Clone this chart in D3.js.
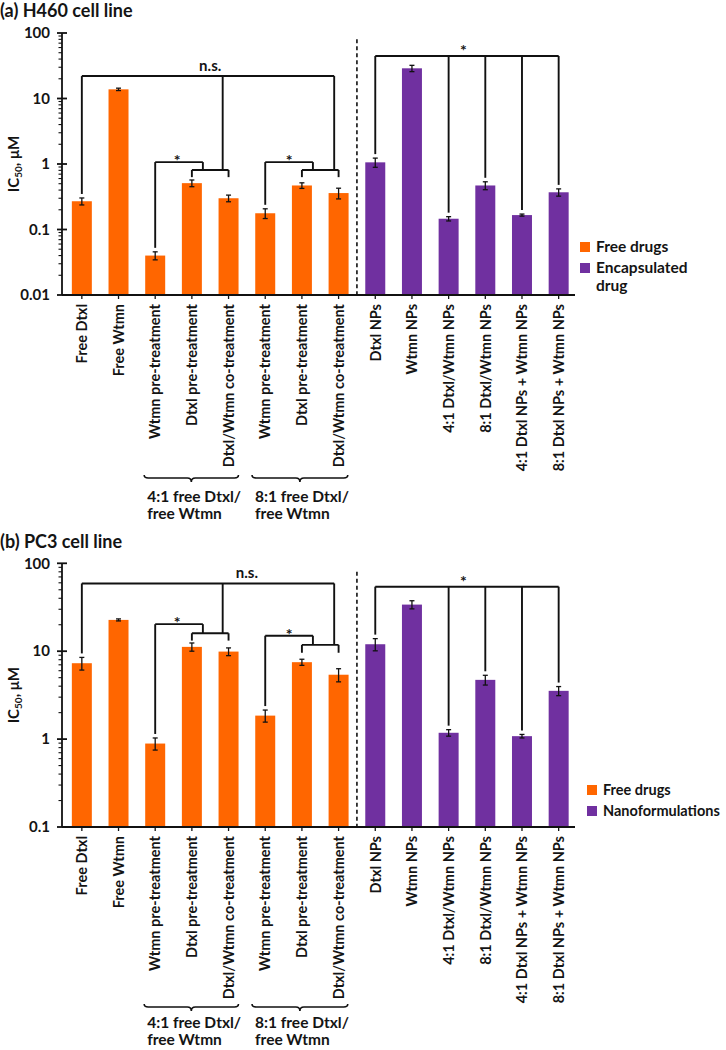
<!DOCTYPE html>
<html><head><meta charset="utf-8">
<script src="https://cdn.jsdelivr.net/npm/d3@7"></script>
<style>
body{margin:0;background:#fff}
svg{display:block}
text{font-family:Lato,'Open Sans',sans-serif;font-weight:700;fill:#141414}
</style>
</head><body><svg id="c" width="726" height="1050"></svg>
<script>
// ---------- DATA ----------
const categories = ["Free Dtxl","Free Wtmn","Wtmn pre-treatment","Dtxl pre-treatment","Dtxl/Wtmn co-treatment",
  "Wtmn pre-treatment","Dtxl pre-treatment","Dtxl/Wtmn co-treatment",
  "Dtxl NPs","Wtmn NPs","4:1 Dtxl/Wtmn NPs","8:1 Dtxl/Wtmn NPs","4:1 Dtxl NPs + Wtmn NPs","8:1 Dtxl NPs + Wtmn NPs"];
const seriesOf = ["free","free","free","free","free","free","free","free","nano","nano","nano","nano","nano","nano"];
const h460Values = [0.27, 13.8, 0.040, 0.51, 0.30, 0.177, 0.47, 0.36, 1.06, 28.9, 0.146, 0.47, 0.166, 0.37];
const h460Errors = [0.033, 0.58, 0.0056, 0.06, 0.035, 0.03, 0.046, 0.067, 0.17, 3.2, 0.011, 0.065, 0.006, 0.047];
const pc3Values  = [7.3, 22.7, 0.89, 11.2, 9.9, 1.85, 7.5, 5.4, 12.0, 33.9, 1.18, 4.72, 1.08, 3.54];
const pc3Errors  = [1.2, 0.6, 0.14, 1.2, 1.0, 0.29, 0.6, 0.92, 1.9, 3.6, 0.1, 0.6, 0.05, 0.42];
const h460Ticks = [0.01, 0.1, 1, 10, 100];
const pc3Ticks  = [0.1, 1, 10, 100];
const groupLabels = [["4:1 free Dtxl/","free Wtmn"],["8:1 free Dtxl/","free Wtmn"]];
const legendA = ["Free drugs", ["Encapsulated","drug"]];
const legendB = ["Free drugs", ["Nanoformulations"]];
const colors = {free:"#FF6600", nano:"#7030A0"};

// ---------- DRAW ----------
const svg = d3.select("#c");
const idx = d3.range(categories.length);

function panel(o){
  const g = svg.append("g");
  const x = d3.scaleBand().domain(idx).range([63.5, 577]).paddingInner(0.455).paddingOuter(0.2275);
  const bw = x.bandwidth(), step = x.step();
  const cx = i => x(i) + bw/2;
  const y = d3.scaleLog().domain(o.domain).range([o.bottom, o.top]);

  // title
  g.append("text").attr("x", 0).attr("y", o.titleY).style("font-size","18px").text(o.title);

  // bars
  g.selectAll("rect.bar").data(idx).join("rect").attr("class","bar")
    .attr("x", i => x(i)).attr("width", bw)
    .attr("y", i => y(o.values[i])).attr("height", i => o.bottom - y(o.values[i]))
    .attr("fill", i => colors[seriesOf[i]]);

  // error bars
  const eb = g.append("g").attr("stroke","#111").attr("stroke-width",1.3);
  idx.forEach(i => {
    const v = o.values[i], e = o.errors[i];
    const y1 = y(v + e), y2 = y(Math.max(v - e, 1e-6));
    eb.append("line").attr("x1",cx(i)).attr("x2",cx(i)).attr("y1",y1).attr("y2",y2);
    eb.append("line").attr("x1",cx(i)-2.5).attr("x2",cx(i)+2.5).attr("y1",y1).attr("y2",y1);
    eb.append("line").attr("x1",cx(i)-2.5).attr("x2",cx(i)+2.5).attr("y1",y2).attr("y2",y2);
  });

  // y axis
  const axX = 62;
  const ya = g.append("g").attr("stroke","#111");
  ya.append("line").attr("x1",axX).attr("x2",axX).attr("y1",o.top).attr("y2",o.bottom).attr("stroke-width",1.8);
  const minor = [];
  const [d0,d1] = o.domain;
  for (let p = Math.round(Math.log10(d0)); p < Math.round(Math.log10(d1)); p++)
    for (let k = 2; k <= 9; k++) minor.push(k*Math.pow(10,p));
  minor.forEach(v => ya.append("line").attr("x1",axX-3.5).attr("x2",axX).attr("y1",y(v)).attr("y2",y(v)).attr("stroke-width",1.1));
  o.ticks.forEach(v => {
    ya.append("line").attr("x1",axX-5).attr("x2",axX+5).attr("y1",y(v)).attr("y2",y(v)).attr("stroke-width",1.8);
    g.append("text").attr("x",axX-12).attr("y",y(v)).attr("dy","0.35em").attr("text-anchor","end")
      .style("font-size","15px").text(v >= 1 ? d3.format("d")(v) : String(v));
  });
  const yl = g.append("text").attr("transform",`translate(19,${(o.top+o.bottom)/2}) rotate(-90)`)
    .attr("text-anchor","middle").style("font-size","15px");
  yl.append("tspan").text("IC");
  yl.append("tspan").attr("dy",3).style("font-size","10px").text("50");
  yl.append("tspan").attr("dy",-3).text(", \u03BCM");

  // x axis
  const xa = g.append("g").attr("stroke","#111");
  xa.append("line").attr("x1",axX).attr("x2",575).attr("y1",o.bottom).attr("y2",o.bottom).attr("stroke-width",1.8);
  idx.forEach(i => xa.append("line").attr("x1",cx(i)).attr("x2",cx(i)).attr("y1",o.bottom).attr("y2",o.bottom+4).attr("stroke-width",1.3));
  g.selectAll("text.xl").data(idx).join("text").attr("class","xl")
    .attr("transform", i => `translate(${cx(i)},${o.bottom+9}) rotate(-90)`)
    .attr("dy","0.36em").attr("text-anchor","end").style("font-size","14.5px")
    .text(i => categories[i]);

  // dashed separator
  g.append("line").attr("x1",(cx(7)+cx(8))/2).attr("x2",(cx(7)+cx(8))/2)
    .attr("y1",y(80)).attr("y2",o.bottom).attr("stroke","#111").attr("stroke-width",1.6).attr("stroke-dasharray","4,3");

  // group braces
  const braceY = o.bottom + o.braceOff;
  [[2,4,-0.3,0.27],[5,7,-0.36,0.25]].forEach((b,gi) => {
    const x1 = cx(b[0]) + b[2]*step, x2 = cx(b[1]) + b[3]*step, xm = (x1+x2)/2;
    const y0 = braceY, y1 = braceY + 3;
    g.append("path").attr("fill","none").attr("stroke","#111").attr("stroke-width",1.6)
      .attr("d",`M${x1},${y0} Q${x1},${y1} ${x1+4},${y1} L${xm-4},${y1} Q${xm},${y1} ${xm},${y1+4} Q${xm},${y1} ${xm+4},${y1} L${x2-4},${y1} Q${x2},${y1} ${x2},${y0}`);
    groupLabels[gi].forEach((t,li) => g.append("text").attr("x",x1+3).attr("y",braceY+o.glDy+li*17)
      .style("font-size","15.5px").text(t));
  });

  // significance brackets
  const br = g.append("g").attr("stroke","#111").attr("stroke-width",1.9).attr("fill","none");
  const line = (xa,ya,xb,yb) => br.append("line").attr("x1",xa).attr("y1",ya).attr("x2",xb).attr("y2",yb);
  const barTop = i => y(o.values[i] + o.errors[i]) - 4;
  const a = o.ann;
  // n.s. bracket
  const nsY = y(a.ns), nsR = cx(7) - 0.12*step, nsM = cx(3) + 0.84*step;
  line(cx(0), nsY, nsR, nsY);
  line(cx(0), nsY, cx(0), barTop(0));
  line(nsM, nsY, nsM, y(a.sub4));
  line(nsR, nsY, nsR, y(a.sub8));
  g.append("text").attr("x", o.nsX(cx, step)).attr("y", nsY-5).attr("text-anchor","middle").style("font-size","15px").text("n.s.");
  // star brackets + sub brackets
  [[2,3,4,a.star4,a.sub4,a.end4,0.6],[5,6,7,a.star8,a.sub8,a.end8,0.65]].forEach(s => {
    const [i0,i1,i2,sv,subv,endv,so] = s;
    const sy = y(sv), suby = y(subv), endy = y(endv), xr = cx(i1) + 0.3*step;
    line(cx(i0), sy, xr, sy);
    line(cx(i0), sy, cx(i0), barTop(i0));
    line(xr, sy, xr, suby);
    line(cx(i1), suby, cx(i2), suby);
    line(cx(i1), suby, cx(i1), endy);
    line(cx(i2), suby, cx(i2), endy);
    g.append("text").attr("x", cx(i0)+so*step).attr("y", sy+4).attr("text-anchor","middle").style("font-size","16px").text("*");
  });
  // purple bracket
  const py = y(a.nano);
  line(cx(8), py, cx(13), py);
  [8,10,11,12,13].forEach(i => line(cx(i), py, cx(i), barTop(i)));
  g.append("text").attr("x", cx(10)+0.4*step).attr("y", py).attr("text-anchor","middle").style("font-size","16px").text("*");

  // legend
  const L = o.legend;
  g.append("rect").attr("x",L.x).attr("y",L.y-10).attr("width",10).attr("height",10).attr("fill",colors.free);
  g.append("text").attr("x",L.x+16).attr("y",L.y).style("font-size",L.fs).text(L.labels[0]);
  g.append("rect").attr("x",L.x).attr("y",L.y+L.gap-9).attr("width",10).attr("height",10).attr("fill",colors.nano);
  L.labels[1].forEach((t,k) => g.append("text").attr("x",L.x+16).attr("y",L.y+L.gap+1+k*18).style("font-size",L.fs).text(t));
}

panel({title:"(a) H460 cell line", titleY:17, domain:[0.01,100], top:33, bottom:295,
  values:h460Values, errors:h460Errors, ticks:h460Ticks, braceOff:180, glDy:27,
  ann:{ns:22, star4:1.07, sub4:0.81, end4:0.63, star8:1.07, sub8:0.81, end8:0.63, nano:44.6},
  nsX:(cx,step)=>cx(3)+0.5*step,
  legend:{x:580, y:252, gap:20, fs:"15.5px", labels:legendA}});

panel({title:"(b) PC3 cell line", titleY:548, domain:[0.1,100], top:563.3, bottom:827,
  values:pc3Values, errors:pc3Errors, ticks:pc3Ticks, braceOff:177, glDy:24,
  ann:{ns:59, star4:20.3, sub4:16.0, end4:13.2, star8:15.0, sub8:11.8, end8:9.6, nano:54.2},
  nsX:(cx,step)=>cx(4)+0.5*step,
  legend:{x:587, y:795, gap:20, fs:"14.5px", labels:legendB}});
</script>
</body></html>
